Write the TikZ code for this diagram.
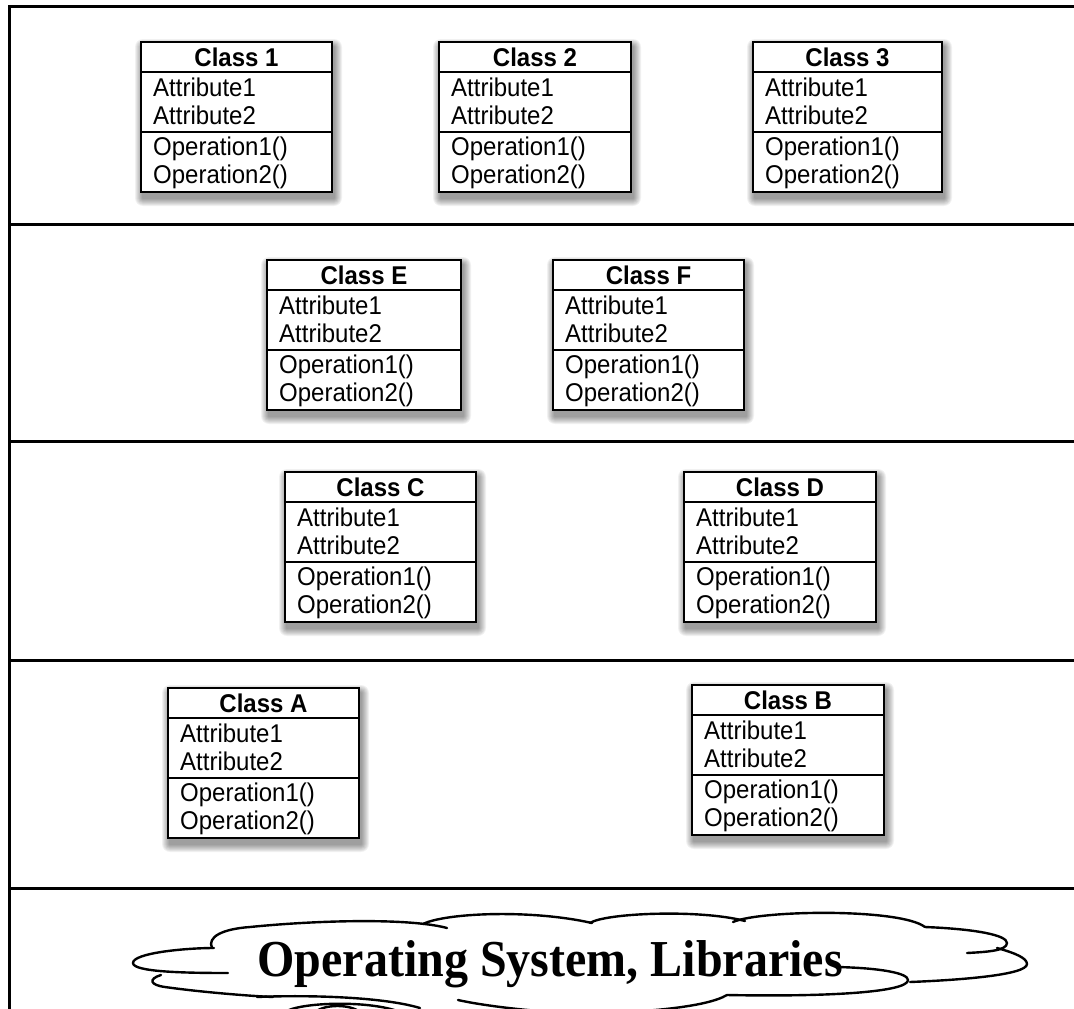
\documentclass[tikz,border=0pt]{standalone}
\usepackage{fontspec}
\newfontfamily\umlfont{Liberation Sans}
\newfontfamily\osfont{Liberation Serif}
\usetikzlibrary{calc}

\tikzset{
  classframe/.style={draw=black, line width=1.8pt, fill=white, minimum height=150pt,
    inner sep=0pt, outer sep=0pt, anchor=north west},
  classtitle/.style={font=\umlfont\bfseries\fontsize{24}{28}\selectfont, anchor=base, inner sep=0pt},
  member/.style={font=\umlfont\fontsize{24}{28}\selectfont, anchor=base west, inner sep=0pt},
  divider/.style={line width=1.6pt},
  layerline/.style={line width=3pt},
  cloudline/.style={line width=2.4pt, line cap=round, line join=round},
  cloudtext/.style={font=\osfont\bfseries\fontsize{48}{56}\selectfont, anchor=base, inner sep=0pt},
}

% slightly tall lettering
\newcommand\tall[1]{\scalebox{1}[1.07]{#1}}

% UML class box: name, left, top, width, title
\newcommand\classbox[5]{%
  \foreach \k in {1,...,8}{
    \fill[black, opacity=0.055, rounded corners=\k pt]
      (#2+2-\k, #3+5-\k) rectangle (#2+#4+2+\k, #3+156+\k);
  }
  \node[classframe, minimum width=#4pt] (#1) at (#2,#3) {};
  \draw[divider] ($(#1.north west)+(0,30)$) -- ($(#1.north east)+(0,30)$);
  \draw[divider] ($(#1.north west)+(0,90)$) -- ($(#1.north east)+(0,90)$);
  \node[classtitle] (#1-title) at ($(#1.north)+(0,24)$) {\tall{#5}};
  \node[member] (#1-attr1) at ($(#1.north west)+(12,54)$) {\tall{Attribute1}};
  \node[member] (#1-attr2) at ($(#1.north west)+(12,82)$) {\tall{Attribute2}};
  \node[member] (#1-op1) at ($(#1.north west)+(12,113)$) {\tall{Operation1()}};
  \node[member] (#1-op2) at ($(#1.north west)+(12,141)$) {\tall{Operation2()}};
}

\begin{document}
\begin{tikzpicture}[x=1pt, y=-1pt]
\useasboundingbox (0,0) rectangle (1074,1009);
\fill[white] (0,0) rectangle (1074,1009);

% layer frame
\draw[layerline] (1074,6.5) -- (9.5,6.5) -- (9.5,1012);
\foreach \yy in {224, 441, 660, 888}{
  \draw[layerline] (9.5,\yy) -- (1074,\yy);
}

% top layer
\classbox{c1}{141}{42}{191}{Class 1}
\classbox{c2}{439}{42}{192}{Class 2}
\classbox{c3}{753}{42}{189}{Class 3}
% second layer
\classbox{cE}{267}{260}{194}{Class E}
\classbox{cF}{553}{260}{191}{Class F}
% third layer
\classbox{cC}{285}{472}{191}{Class C}
\classbox{cD}{684}{472}{192}{Class D}
% fourth layer
\classbox{cA}{168}{688}{191}{Class A}
\classbox{cB}{692}{685}{192}{Class B}

% cloud for the base layer
\begin{scope}
\clip (0,0) rectangle (1074,1009);
% upper left lobe and top bump
\draw[cloudline] (228,973) .. controls (185,973) and (133,972) .. (133,963)
  .. controls (133,953) and (185,948) .. (214,948);
\draw[cloudline] (212,948) .. controls (207,937) and (222,929) .. (250,927)
  .. controls (320,920) and (410,918) .. (447,928);
% top lobes
\draw[cloudline] (423,924) .. controls (445,913) and (530,909) .. (592,923);
\draw[cloudline] (590,923) .. controls (605,913) and (700,909) .. (745,921);
\draw[cloudline] (733,922) .. controls (760,910) and (900,908) .. (925,927);
% right lobes
\draw[cloudline] (925,927) .. controls (975,929) and (1007,935) .. (1007,943)
  .. controls (1007,951) and (985,952) .. (967,953);
\draw[cloudline] (997,948) .. controls (1015,953) and (1027,958) .. (1027,964)
  .. controls (1027,975) and (960,980) .. (910,982);
% lower middle lobe
\draw[cloudline] (837,967) .. controls (880,968) and (908,973) .. (908,980)
  .. controls (908,992) and (830,997) .. (727,995);
% bottom lobe
\draw[cloudline] (727,995) .. controls (705,1008) and (640,1012) .. (590,1014)
  .. controls (530,1012) and (480,1005) .. (458,1000);
% lower left lobe
\draw[cloudline] (161,975) .. controls (148,979) and (150,985) .. (165,987)
  .. controls (200,992) and (250,996) .. (273,997);
% small puffs at the bottom edge
\draw[cloudline] (257,997) .. controls (300,995) and (380,996) .. (420,1008);
\draw[cloudline] (285,1012) .. controls (300,1002) and (370,1000) .. (400,1012);
\draw[cloudline] (315,1012) .. controls (325,1004) and (350,1004) .. (360,1012);
\end{scope}

\node[cloudtext] (os) at (550,976) {\scalebox{1}[1.08]{Operating System, Libraries}};
\end{tikzpicture}
\end{document}
